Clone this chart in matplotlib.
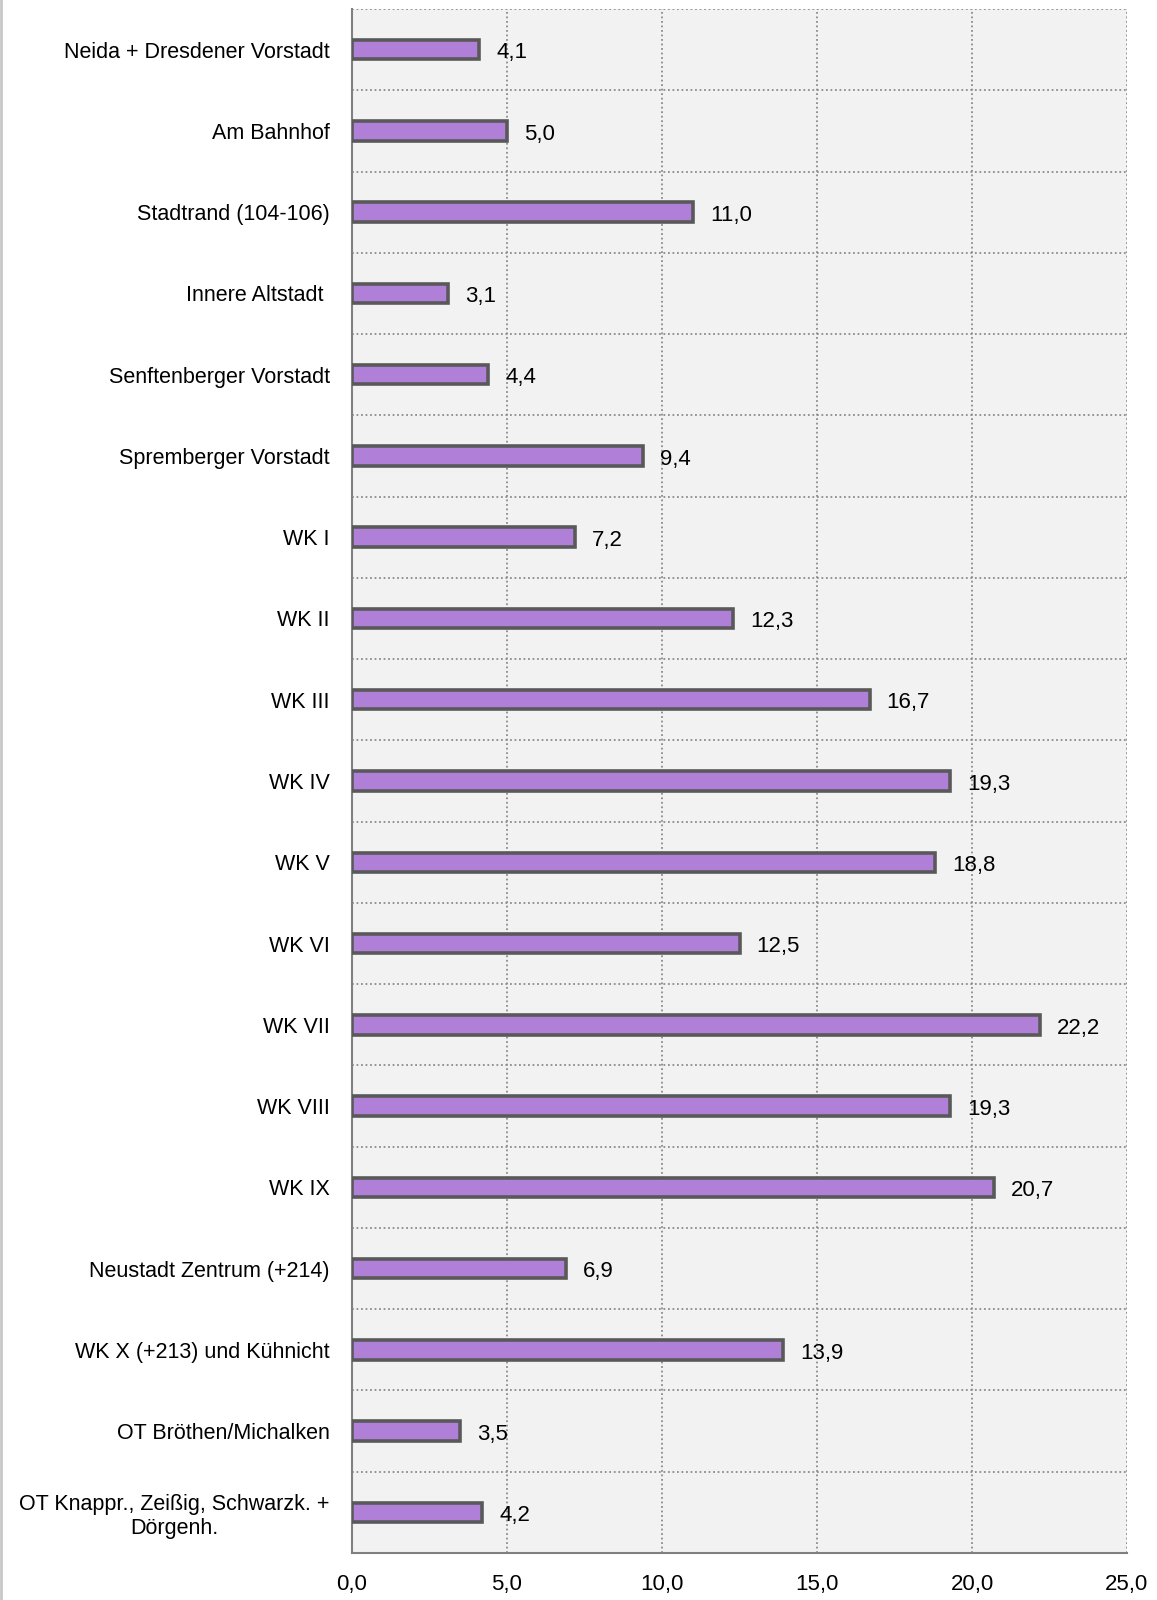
import matplotlib
matplotlib.use("Agg")
import matplotlib.pyplot as plt
from matplotlib.lines import Line2D
import numpy as np

# =========================
# Data
# =========================

districts = [
    "Neida + Dresdener Vorstadt",
    "Am Bahnhof",
    "Stadtrand (104-106)",
    "Innere Altstadt ",
    "Senftenberger Vorstadt",
    "Spremberger Vorstadt",
    "WK I",
    "WK II",
    "WK III",
    "WK IV",
    "WK V",
    "WK VI",
    "WK VII",
    "WK VIII",
    "WK IX",
    "Neustadt Zentrum (+214)",
    "WK X (+213) und Kühnicht",
    "OT Bröthen/Michalken",
    "OT Knappr., Zeißig, Schwarzk. +\nDörgenh.",
]
values = [4.1, 5.0, 11.0, 3.1, 4.4, 9.4, 7.2, 12.3, 16.7, 19.3,
          18.8, 12.5, 22.2, 19.3, 20.7, 6.9, 13.9, 3.5, 4.2]
x_ticks = [0, 5, 10, 15, 20, 25]

plt.rcParams["font.family"] = ["Liberation Sans", "DejaVu Sans"]

# =========================
# Chart
# =========================

fig = plt.figure(figsize=(11.57, 16.0), dpi=100)
ax = fig.add_axes([352 / 1157, 1 - 1553 / 1600, (1127 - 352) / 1157, (1553 - 9) / 1600])
ax.set_facecolor("#f2f2f2")

n = len(districts)
y = np.arange(n)

ax.barh(y, values, height=0.24, color="#b07fd8", edgecolor="#595959",
        linewidth=2.6, zorder=3)

for yi, v in zip(y, values):
    ax.text(v + 0.55, yi + 0.04, f"{v:.1f}".replace(".", ","), va="center",
            ha="left", fontsize=16, color="black", zorder=4)

ax.set_ylim(n - 0.5, -0.5)
ax.set_xlim(0, 25)
ax.set_yticks(y)
ax.set_yticklabels(districts, fontsize=15.5, ha="right", multialignment="center")
ax.tick_params(axis="y", length=0, pad=16)
ax.set_xticks(x_ticks)
ax.set_xticklabels([f"{t:.1f}".replace(".", ",") for t in x_ticks], fontsize=16)
ax.tick_params(axis="x", length=0, pad=15)

# grid: vertical at ticks, horizontal between categories
for t in x_ticks[1:]:
    ax.axvline(t, color="#8c8c8c", linestyle=(0, (1, 1.5)), linewidth=1.3, zorder=1)
for b in np.arange(-0.5, n, 1.0):
    ax.axhline(b, color="#8c8c8c", linestyle=(0, (1, 1.5)), linewidth=1.3, zorder=1)

for side in ["top", "right"]:
    ax.spines[side].set_visible(False)
ax.spines["left"].set_color("#808080")
ax.spines["left"].set_linewidth(1.5)
ax.spines["bottom"].set_color("#808080")
ax.spines["bottom"].set_linewidth(1.5)

# thin frame line at the left image edge
fig.add_artist(Line2D([0.001, 0.001], [0, 1], transform=fig.transFigure,
                      color="#c8c8c8", linewidth=2))

fig.savefig("out.png", dpi=100)
